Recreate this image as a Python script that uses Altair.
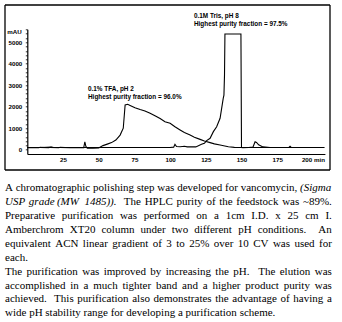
import altair as alt
import pandas as pd

# ---------------- data ----------------
TFA_X = [0, 8, 9, 15, 16, 22, 23, 30, 35, 39.5, 40.3, 41, 42, 46, 50, 53, 56, 59, 62, 65,
         67.2, 68.5, 70.3, 72, 75.4, 79, 82.4, 86, 89.4, 93, 96.4, 100, 103.4, 107, 110, 114,
         117, 121, 124, 128, 131, 135, 140.8, 145, 152, 160, 170, 180, 190, 200, 208]
TFA_Y = [90, 90, 110, 90, 110, 90, 110, 90, 90, 90, 370, 160, 70, 70, 80, 190, 260, 330, 450, 680,
         1000, 2080, 2110, 2060, 1950, 1870, 1800, 1700, 1580, 1450, 1300, 1230, 1070, 920, 800, 680,
         580, 480, 400, 330, 270, 220, 140, 110, 100, 100, 100, 100, 100, 100, 100]
TRIS_X = [0, 10, 17, 18, 25, 30, 40, 50, 60, 70, 80, 90, 100, 102.5, 103.4, 104.5, 107, 110, 112, 118,
          122, 124, 125.6, 128, 130.3, 132.6, 135, 136.1, 137.2, 137.7, 138.1, 138.4, 149.6, 150, 151,
          155, 158, 159.5, 160.5, 162, 163, 165, 170, 183, 184, 185, 195, 200, 208]
TRIS_Y = [100, 100, 120, 100, 100, 100, 100, 100, 100, 100, 100, 100, 100, 120, 250, 150, 140, 160, 130, 130,
          250, 300, 420, 530, 840, 1070, 1460, 1925, 2390, 2540, 3470, 5380, 5380, 100, 90,
          100, 120, 370, 340, 230, 200, 130, 100, 100, 160, 100, 100, 100, 100]

X_TICKS = [25, 50, 75, 100, 125, 150, 175, 200]
Y_TICKS = list(range(0, 5601, 200))
Y_UNIT = "mAU"
X_UNIT = "min"

ANNOT_TFA = ["0.1% TFA, pH 2", "Highest purity fraction = 96.0%"]
ANNOT_TRIS = ["0.1M Tris, pH 8", "Highest purity fraction = 97.5%"]

PARAGRAPH = [
    ("A chromatographic polishing step was developed for vancomycin, *(Sigma*", True),
    ("*USP grade (MW 1485)).*  The HPLC purity of the feedstock was ~89%.", True),
    ("Preparative purification was performed on a 1cm I.D. x 25 cm I.", True),
    ("Amberchrom XT20 column under two different pH conditions.  An", True),
    ("equivalent ACN linear gradient of 3 to 25% over 10 CV was used for", True),
    ("each.", False),
    ("The purification was improved by increasing the pH.  The elution was", True),
    ("accomplished in a much tighter band and a higher product purity was", True),
    ("achieved.  This purification also demonstrates the advantage of having a", True),
    ("wide pH stability range for developing a purification scheme.", False),
]

# ---------------- layout ----------------
W, H = 297.6, 124.7          # plot area
X0, Y0 = 27.3, 29.3          # plot area origin in the page
XMAX, YMIN, YMAX = 208.4, -200, 5600
LABEL_FONT = "Liberation Sans Narrow, Liberation Sans, Arial, sans-serif"
SERIF = "Liberation Serif, Times New Roman, serif"
FS = 11.0
LFS = 6.2


def px2x(px):
    return (px - X0) * XMAX / W


def py2y(py):
    return YMAX - (py - Y0) * (YMAX - YMIN) / H


# Times metrics (units of 1/1000 em) for justified text layout
TW = {' ': 250, '%': 833, '(': 333, ')': 333, ',': 250, '-': 333, '.': 250, '~': 541, ':': 278}
for c in "0123456789":
    TW[c] = 500
TW.update(dict(zip("ABCDEFGHIJKLMNOPQRSTUVWXYZ",
                   [722, 667, 667, 722, 611, 556, 722, 722, 333, 389, 722, 611, 889, 722, 722, 556,
                    722, 667, 556, 611, 722, 722, 944, 722, 722, 611])))
TW.update(dict(zip("abcdefghijklmnopqrstuvwxyz",
                   [444, 500, 444, 500, 444, 333, 500, 500, 278, 278, 500, 278, 778, 500, 500, 500,
                    500, 333, 389, 278, 500, 500, 722, 500, 500, 444])))


def tw(s):
    return sum(TW.get(c, 500) for c in s) * FS / 1000.0


LEFT, RIGHT = 5.0, 331.8
TOP_LINE, LINE_H = 188.2, 13.9

rows = []
for i, (line, justified) in enumerate(PARAGRAPH):
    toks = line.split(' ')
    words, weights = [], []
    ital = False
    pending = 0
    for t in toks:
        if t == '':
            pending += 1
            continue
        start = t.startswith('*')
        if start:
            ital = True
            t = t[1:]
        end = t.endswith('*')
        if end:
            t = t[:-1]
        if words:
            weights.append(1 + pending)
        pending = 0
        words.append((t, ital))
        if end:
            ital = False
    total = sum(tw(w) for w, _ in words)
    if justified and weights:
        unit = (RIGHT - LEFT - total) / sum(weights)
    else:
        unit = TW[' '] * FS / 1000.0
    px = LEFT
    py = TOP_LINE + i * LINE_H
    for j, (w, it) in enumerate(words):
        rows.append({"x": px2x(px), "y": py2y(py), "t": w, "it": it})
        px += tw(w)
        if j < len(weights):
            px += unit * weights[j]
para_df = pd.DataFrame(rows)

series_df = pd.concat([
    pd.DataFrame({"x": TFA_X, "y": TFA_Y, "s": "0.1% TFA, pH 2"}),
    pd.DataFrame({"x": TRIS_X, "y": TRIS_Y, "s": "0.1M Tris, pH 8"}),
])

annot_df = pd.DataFrame({
    "x": [42.5, 42.5, 116.7, 116.7, px2x(21.7)],
    "y": [2823, 2450, 6220, 5850, py2y(32)],
    "t": ANNOT_TFA + ANNOT_TRIS + [Y_UNIT],
    "a": ["l", "l", "l", "l", "r"],
})

# frame box around the chromatogram, as four segments (page px -> scale units)
BL, BR, BT, BB = px2x(5), px2x(330), py2y(5), py2y(170)
frame_df = pd.DataFrame({
    "x": [BL, BL, BL, BR], "x2": [BR, BR, BL, BR],
    "y": [BT, BB, BT, BT], "y2": [BT, BB, BB, BB],
})

xscale = alt.Scale(domain=[0, XMAX], nice=False, zero=False)
yscale = alt.Scale(domain=[YMIN, YMAX], nice=False, zero=False)
xaxis = alt.Axis(values=X_TICKS, title=None, grid=False, ticks=False, domainColor="black",
                 domainWidth=1.2, labelFont=LABEL_FONT, labelFontWeight="bold", labelFontSize=LFS,
                 labelColor="black", labelPadding=2.5, labelFlush=False,
                 labelExpr=f"datum.value == 200 ? '200 {X_UNIT}' : datum.label")
yaxis = alt.Axis(values=Y_TICKS, title=None, grid=False, ticks=True, tickSize=2, tickColor="black",
                 tickWidth=0.8, domainColor="black", domainWidth=1.2, labelFont=LABEL_FONT,
                 labelFontWeight="bold", labelFontSize=LFS, labelColor="black", labelPadding=3.5,
                 labelOverlap=False, labelFlush=False, format="d",
                 labelExpr="datum.value % 1000 == 0 ? datum.label : ''")

X = alt.X("x:Q", scale=xscale, axis=xaxis)
Y = alt.Y("y:Q", scale=yscale, axis=yaxis)

frame = alt.Chart(frame_df).mark_rule(color="black", strokeWidth=1.3).encode(
    x=X, y=Y, x2="x2:Q", y2="y2:Q")

lines = alt.Chart(series_df).mark_line(color="black", strokeWidth=1.1).encode(
    x=X, y=Y, detail="s:N")

ann_l = alt.Chart(annot_df).transform_filter("datum.a == 'l'").mark_text(
    align="left", baseline="middle", font=LABEL_FONT, fontWeight="bold", fontSize=LFS + 0.2,
    color="black").encode(x=X, y=Y, text="t:N")
ann_r = alt.Chart(annot_df).transform_filter("datum.a == 'r'").mark_text(
    align="right", baseline="middle", font=LABEL_FONT, fontWeight="bold", fontSize=LFS,
    color="black").encode(x=X, y=Y, text="t:N")

para_n = alt.Chart(para_df).transform_filter("!datum.it").mark_text(
    align="left", baseline="middle", font=SERIF, fontSize=FS, color="black").encode(
    x=X, y=Y, text="t:N")
para_i = alt.Chart(para_df).transform_filter("datum.it").mark_text(
    align="left", baseline="middle", font=SERIF, fontSize=FS, fontStyle="italic",
    color="black").encode(x=X, y=Y, text="t:N")

chart = alt.layer(frame, lines, ann_l, ann_r, para_n, para_i).properties(
    width=W, height=H,
    autosize=alt.AutoSizeParams(type="none"),
    padding={"left": X0, "top": Y0, "right": 342 - X0 - W, "bottom": 322 - Y0 - H},
    background="white",
).configure_view(stroke=None)

chart.save("out.html", embed_options={"renderer": "svg", "actions": False})
